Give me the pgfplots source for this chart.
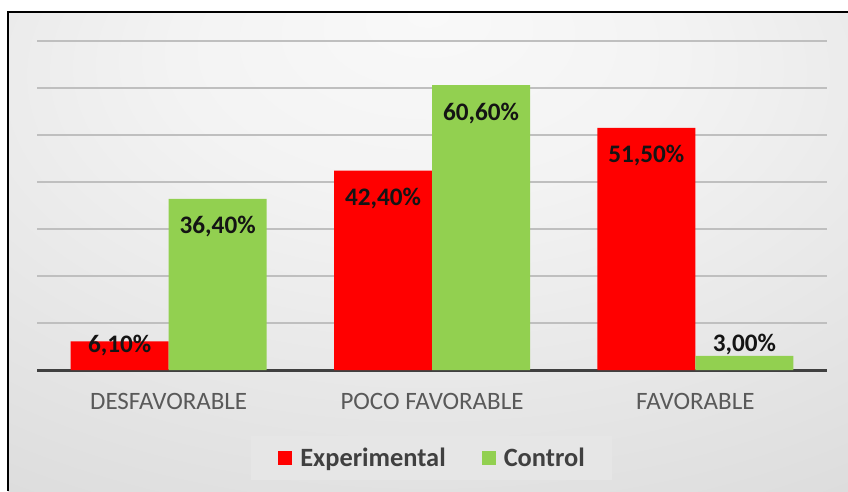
\documentclass[border=0pt]{standalone}
\usepackage{fontspec}
\setmainfont{Carlito}
\usepackage{pgfplots}
\usepackage{pgfplotstable}
\pgfplotsset{compat=1.18}

\definecolor{expred}{HTML}{FF0000}
\definecolor{ctrlgreen}{HTML}{92D050}
\definecolor{gridgray}{HTML}{BFBFBF}
\definecolor{basegray}{HTML}{404040}
\definecolor{ticktext}{HTML}{595959}
\definecolor{legtext}{HTML}{404040}
\definecolor{legfill}{HTML}{E6E6E6}
\definecolor{bga}{HTML}{F9F9F9}
\definecolor{bgb}{HTML}{F3F3F3}
\definecolor{bgc}{HTML}{D5D5D5}
\definecolor{bgd}{HTML}{C5C5C5}
\pgfdeclareradialshading{bgshade}{\pgfpoint{0bp}{25bp}}{%
  color(0bp)=(bga); color(15bp)=(bgb); color(56bp)=(bgc); color(90bp)=(bgd)}

% off = vertical shift of the value label from the bar top (pt)
\pgfplotstableread{
x y off
0 6.1 -4
1 42.4 -28
2 51.5 -28
}\exptable
\pgfplotstableread{
x y off
0 36.4 -28
1 60.6 -28
2 3.0 11
}\ctrltable

\begin{document}
\begin{tikzpicture}
\fill[white] (0pt,0pt) rectangle (848pt,491pt);
\shade[shading=bgshade] (8pt,0pt) rectangle (848pt,479pt);
\draw[black, line width=2.5pt] (8pt,0pt) -- (8pt,479pt) -- (848pt,479pt);
\begin{axis}[
    at={(37pt,121pt)}, anchor=south west,
    scale only axis, width=790pt, height=329pt,
    xmin=-0.5, xmax=2.5, ymin=0, ymax=70,
    ybar=0pt, bar width=98pt,
    axis x line*=bottom, axis y line*=left,
    x axis line style={basegray, line width=3pt},
    y axis line style={draw=none},
    xtick={0,1,2},
    xticklabels={DESFAVORABLE, POCO FAVORABLE, FAVORABLE},
    xticklabel style={font=\fontsize{25}{30}\selectfont, text=ticktext, anchor=center, yshift=-31pt},
    ytick={0,10,...,70}, yticklabels={},
    major tick length=0pt,
    ymajorgrids,
    major grid style={gridgray, line width=1.6pt},
    nodes near coords={\pgfmathprintnumber[fixed,fixed zerofill,precision=2,use comma,assume math mode=true]{\pgfplotspointmeta}\%},
    visualization depends on={\thisrow{off}\as\laboff},
    nodes near coords style={font=\bfseries\fontsize{25.2}{30}\selectfont, text=black!92, anchor=center, yshift=\laboff pt},
    legend columns=2,
    legend style={at={(0.4994,-0.266)}, anchor=center, draw=none, fill=legfill,
      font=\bfseries\fontsize{26.4}{31}\selectfont, text=legtext,
      inner xsep=27pt, inner ysep=12pt,
      nodes={inner sep=0pt},
      /tikz/every odd column/.append style={column sep=8pt},
      /tikz/every even column/.append style={column sep=36pt}},
    legend image code/.code={\fill[#1] (0pt,-7pt) rectangle (14pt,7pt);},
]
\addplot[fill=expred, draw=none] table[x=x, y=y] {\exptable};
\addplot[fill=ctrlgreen, draw=none] table[x=x, y=y] {\ctrltable};
\legend{Experimental, Control}
\end{axis}
\pgfresetboundingbox
\useasboundingbox (0pt,0pt) rectangle (848pt,491pt);
\end{tikzpicture}
\end{document}
